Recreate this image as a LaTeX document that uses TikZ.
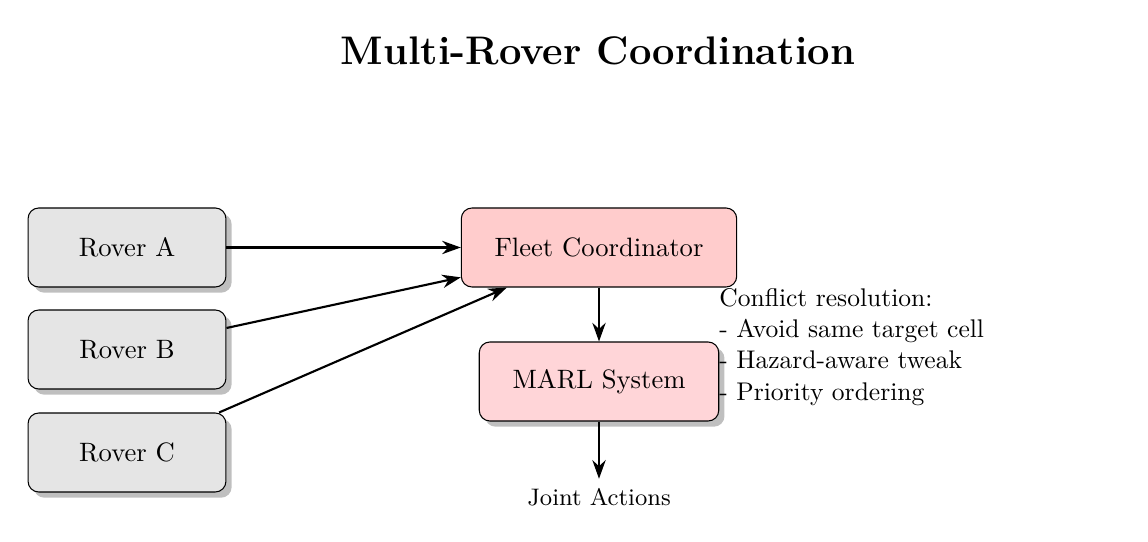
\documentclass[tikz,border=0pt]{standalone}
\usetikzlibrary{shadows,arrows.meta}
\definecolor{marlpink}{HTML}{FFD5D8}
\begin{document}
\begin{tikzpicture}[x=0.376pt,y=-0.376pt,
  box/.style={draw,rounded corners=4pt,inner xsep=12.5pt,minimum width=74.4pt,minimum height=29.7pt,font=\normalsize},
  rover/.style={box,fill=gray!20,drop shadow},
  arr/.style={-{Stealth[length=7pt,width=5pt]},thick}]
\useasboundingbox (0,0) rectangle (1148,542);
\node[font=\fontsize{15}{18}\selectfont\bfseries] (title) at (598,51) {Multi-Rover Coordination};
\node[rover] (ra) at (127,247.5) {Rover A};
\node[rover] (rb) at (127,349.5) {Rover B};
\node[rover] (rc) at (127,452.5) {Rover C};
\node[box,fill=red!20] (fleet) at (599,247.5) {Fleet Coordinator};
\node[box,fill=marlpink,drop shadow] (marl) at (599,381.5) {MARL System};
\node[font=\small] (joint) at (599,497) {Joint Actions};
\node[anchor=west,align=left,font=\fontsize{9.6}{11.75}\selectfont] (conf) at (710,347) {Conflict resolution:\\- Avoid same target cell\\- Hazard-aware tweak\\- Priority ordering};
\draw[arr] (ra) -- (fleet);
\draw[arr] (rb) -- (fleet);
\draw[arr] (rc) -- (fleet);
\draw[arr] (fleet) -- (marl);
\draw[arr] (marl) -- (joint);
\end{tikzpicture}
\end{document}
